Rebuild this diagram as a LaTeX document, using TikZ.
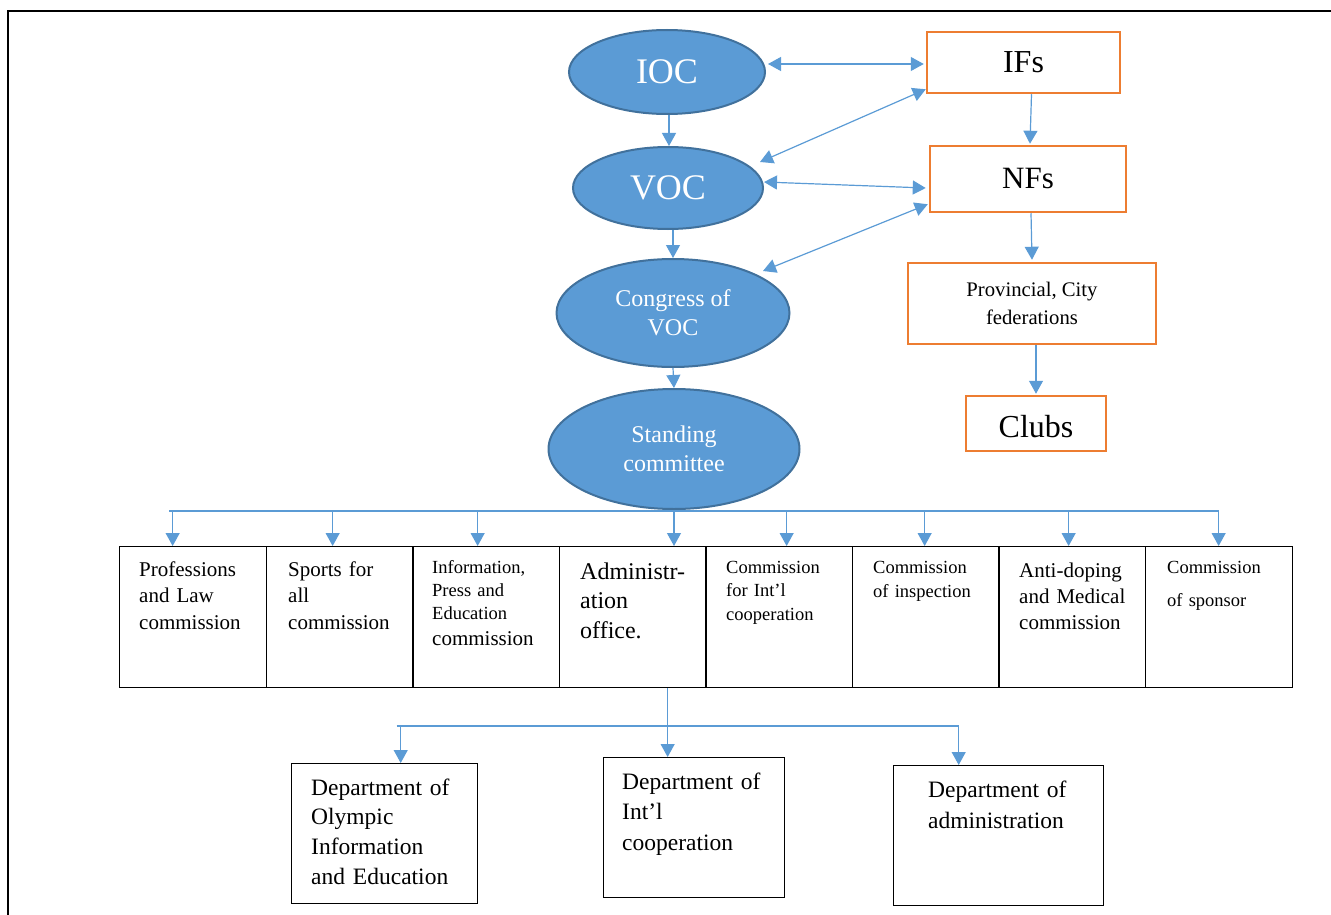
\documentclass[tikz,border=0pt]{standalone}
\usepackage{fontspec}
\setmainfont{Liberation Serif}
\usetikzlibrary{shapes.geometric,arrows.meta,calc}
\definecolor{ellfill}{RGB}{91,155,213}
\definecolor{elldraw}{RGB}{65,113,156}
\definecolor{orng}{RGB}{237,125,49}
\definecolor{arrblue}{RGB}{91,155,213}
\newcommand\myfs[2]{\fontsize{#1}{#2}\selectfont}
\begin{document}
\begin{tikzpicture}[x=1pt,y=-1pt,
 ell/.style={ellipse, fill=ellfill, draw=elldraw, line width=2pt, inner sep=0pt, text=white, align=center},
 obox/.style={draw=orng, line width=2.5pt, inner sep=0pt},
 cbox/.style={draw=black, line width=1.3pt, minimum width=147pt, minimum height=141pt, inner sep=0pt, anchor=north west},
 dbox/.style={draw=black, line width=1.4pt, minimum height=140pt, inner sep=0pt, anchor=north west},
 btxt/.style={anchor=base west, inner sep=0pt, text width=140pt, align=left},
 conn/.style={draw=arrblue, line width=1.2pt},
 arr/.style={conn, -{Triangle[width=14pt,length=13pt]}},
 darr/.style={conn, {Triangle[width=14pt,length=13pt]}-{Triangle[width=14pt,length=13pt]}},
]
\useasboundingbox (0,0) rectangle (1331,915);
\draw[line width=2.5pt] (8,915) -- (8,11) -- (1331,11);

% ellipses
\node[ell, minimum width=196pt, minimum height=84pt, font=\myfs{36}{40}] (ioc) at (667,72) {IOC};
\node[ell, minimum width=190pt, minimum height=82pt, font=\myfs{36}{40}] (voc) at (668,188) {VOC};
\node[ell, minimum width=233pt, minimum height=108pt, font=\myfs{24}{29}] (cong) at (673,313) {Congress of\\VOC};
\node[ell, minimum width=251pt, minimum height=120pt, font=\myfs{24}{29}] (stand) at (674,449) {Standing\\committee};

% orange boxes
\node[obox, minimum width=193pt, minimum height=61pt, font=\myfs{32}{36}] (ifs) at (1023.5,62.5) {IFs};
\node[obox, minimum width=196pt, minimum height=66pt, font=\myfs{31}{36}] (nfs) at (1028,179) {NFs};
\node[obox, minimum width=248pt, minimum height=81pt, font=\myfs{20.7}{28}, align=center] (prov) at (1032,303.5) {Provincial, City\\federations};
\node[obox, minimum width=140pt, minimum height=55pt, font=\myfs{32}{36}, text height=28pt, text depth=0pt] (clubs) at (1036,423.5) {Clubs};

% arrows top
\draw[darr] ($(ioc.east)+(2,-8)$) -- ($(ifs.west)+(-2,1.5)$);
\draw[darr] ($(ifs.south west)+(0,-5)$) -- ($(voc.center)+(92,-26)$);
\draw[darr] ($(voc.east)+(0,-6)$) -- ($(nfs.west)+(-3,9)$);
\draw[darr] ($(nfs.south west)+(-1,-9)$) -- ($(cong.center)+(90,-42)$);
\draw[arr] ($(ioc.south)+(2,0)$) coordinate (iv) -- (iv |- voc.north);
\draw[arr] ($(voc.south)+(5,0)$) coordinate (vc) -- (vc |- cong.north);
\draw[arr] (cong.south) -- (stand.north);
\draw[arr] ($(ifs.south)+(8,0)$) -- ($(nfs.north)+(2,-1)$);
\draw[arr] ($(nfs.south)+(3,0)$) -- ($(prov.north)+(0,-2)$);
\draw[arr] ($(prov.south)+(4,0)$) -- ($(clubs.north)+(0,-1)$);

% commission boxes
\node[cbox] (c1) at (119,546) {};
\node[cbox] (c2) at (266,546) {};
\node[cbox] (c3) at (412,546) {};
\node[cbox] (c4) at (559,546) {};
\node[cbox] (c5) at (705,546) {};
\node[cbox] (c6) at (852,546) {};
\node[cbox] (c7) at (998,546) {};
\node[cbox] (c8) at (1145,546) {};

\node[btxt, font=\myfs{21}{26.5}] (t1) at ($(c1.north west)+(20,30)$) {Professions\\and Law\\commission};
\node[btxt, font=\myfs{21}{26.5}] (t2) at ($(c2.north west)+(22,30)$) {Sports for\\all\\commission};
\node[btxt, font=\myfs{18.5}{23}] (t3) at ($(c3.north west)+(20,27)$) {Information,\\Press and\\Education\\[3pt]{\myfs{21}{23}commission}};
\node[btxt, font=\myfs{24}{29.5}] (t4) at ($(c4.north west)+(21,33)$) {Administr-\\ation\\office.};
\node[btxt, font=\myfs{18.5}{23.5}] (t5) at ($(c5.north west)+(21,27)$) {Commission\\for Int’l\\cooperation};
\node[btxt, font=\myfs{18.5}{24}] (t6) at ($(c6.north west)+(21,27)$) {Commission\\of inspection};
\node[btxt, font=\myfs{21}{26}] (t7) at ($(c7.north west)+(21,31)$) {Anti-doping\\and Medical\\commission};
\node[btxt, font=\myfs{18.5}{33}] (t8) at ($(c8.north west)+(22,27)$) {Commission\\of sponsor};

% bus
\coordinate (busL) at ($(c1.north)+(-24,-35)$);
\coordinate (busR) at ($(c8.north)+(-0.5,-35)$);
\draw[conn] (busL) -- (busR);
\foreach \n/\dx in {c1/-20.5, c2/-7.5, c3/-8.5, c5/7.5, c6/-1.5, c7/-3.5, c8/-0.5}
  \draw[arr] ($(\n.north)+(\dx,-35)$) -- ($(\n.north)+(\dx,0)$);
\draw[arr] (stand.south) -- (stand.south |- c4.north);

% departments
\node[dbox, minimum width=186pt] (d1) at (291,763) {};
\node[dbox, minimum width=181pt] (d2) at (603,757) {};
\node[dbox, minimum width=210pt] (d3) at (893,765) {};
\node[btxt, font=\myfs{23.5}{29.7}, text width=170pt] (dt1) at ($(d1.north west)+(20,32)$) {Department of\\Olympic\\Information\\and Education};
\node[btxt, font=\myfs{23.5}{30.5}, text width=170pt] (dt2) at ($(d2.north west)+(19,32)$) {Department of\\Int’l\\cooperation};
\node[btxt, font=\myfs{23.5}{31}, text width=170pt] (dt3) at ($(d3.north west)+(35,32)$) {Department of\\administration};

\draw[arr] ($(c4.south)+(34.5,0)$) coordinate (adm) -- (adm |- d2.north);
\coordinate (dbL) at ($(d1.north)+(12,-37)$);
\coordinate (dbR) at ($(d3.north)+(-40,-39)$);
\draw[conn] (dbL) -- (dbR);
\draw[arr] ($(d1.north)+(16,-37)$) -- ($(d1.north)+(16,0)$);
\draw[arr] ($(d3.north)+(-40,-39)$) -- ($(d3.north)+(-40,0)$);
\end{tikzpicture}
\end{document}
